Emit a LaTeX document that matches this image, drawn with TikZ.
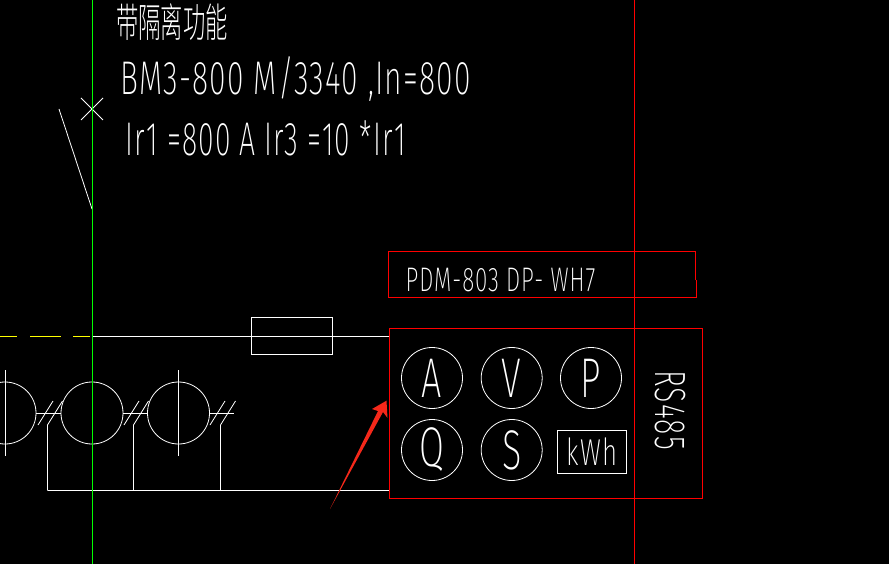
\documentclass[tikz,border=0pt]{standalone}
\usepackage{fontspec}
\usetikzlibrary{positioning}
\setmainfont{Fira Sans}[UprightFont=* ExtraLight]
\newfontfamily\cadfont{Fira Sans}[UprightFont=* ExtraLight,LetterSpace=4]
\newfontfamily\cjkfont{Noto Sans CJK SC}[UprightFont=* Light]
\definecolor{cadred}{HTML}{FF0000}
\definecolor{cadgreen}{HTML}{00FF00}
\definecolor{cadyellow}{HTML}{FFFF00}
\definecolor{arrowred}{HTML}{F5281A}

\begin{document}
\begin{tikzpicture}[x=1pt,y=-1pt,line width=.8pt,
  wire/.style={draw=white},
  redbox/.style={draw=cadred,line width=1pt},
  gauge/.style={circle,draw=white,minimum size=61pt,inner sep=0pt},
  cadlabel/.style={text=white,inner sep=0pt,yscale=1.1,font=\cadfont\fontsize{43}{43}\selectfont}]
  \fill[black] (0,0) rectangle (889,564);
  \useasboundingbox (0,0) rectangle (889,564);

  % rails
  \coordinate (railtop) at (92,0);
  \coordinate (railbot) at (92,564);
  \coordinate (redtop) at (634.5,0);
  \coordinate (redbot) at (634.5,564);

  % breaker
  \coordinate (brkfree) at (59,109);
  \coordinate (brkend) at (92,209);
  \coordinate (crossa) at (81,98);
  \coordinate (crossb) at (103,120);
  \coordinate (crossc) at (103,98);
  \coordinate (crossd) at (81,120);
  \draw[wire] (brkfree) -- (brkend);
  \draw[wire] (crossa) -- (crossb);
  \draw[wire] (crossc) -- (crossd);

  % labels
  \node[text=white,inner sep=0pt,xscale=.97,yscale=1.75,font=\cjkfont\fontsize{23}{23}\selectfont] (funclabel) at (172,22) {带隔离功能};
  \node[cadlabel,xscale=.7] (typelabel) at (295.5,79) {BM3-800 M/3340 ,In=800};
  \node[cadlabel,xscale=.66] (setlabel) at (265.5,138) {Ir1 =800 A Ir3 =10 *Ir1};

  % line to meter
  \coordinate (busleft) at (0,336.5);
  \coordinate (busmid) at (92,336.5);
  \draw[draw=cadyellow,dash pattern=on 17pt off 13pt on 31pt off 12pt] (busleft) -- (busmid);
  \node[draw=white,minimum width=81pt,minimum height=37pt,inner sep=0pt] (fuse) at (292,335.5) {};
  \node[redbox,minimum width=312.5pt,minimum height=169.5pt,inner sep=0pt] (meter) at (545.75,413.25) {};
  \coordinate (busend) at (meter.west |- busmid);
  \draw[wire] (busmid) -- (busend);

  % current transformers
  \foreach \name/\cx in {cta/5,ctb/92,ctc/178.5} {
    \node[circle,draw=white,minimum size=62pt,inner sep=0pt] (\name) at (\cx,413) {};
  }
  \coordinate (ctatop) at (5.5,370);
  \coordinate (ctabot) at (5.5,456);
  \coordinate (ctctop) at (178.5,370);
  \coordinate (ctcbot) at (178.5,456);
  \draw[wire] (ctatop) -- (ctabot);
  \draw[wire] (ctctop) -- (ctcbot);
  \coordinate (stub) at (234,413);
  \draw[wire] (cta) -- (ctb);
  \draw[wire] (ctb) -- (ctc);
  \draw[wire] (ctc.east) -- (stub);
  \foreach \name/\sx in {a/38,b/124,c/210} {
    \coordinate (sl\name top) at (\sx+15,401);
    \coordinate (sl\name bot) at (\sx,425);
    \draw[wire] (sl\name top) -- (sl\name bot);
  }
  \foreach \name/\wx in {a/47.5,b/133.5,c/220.5} {
    \coordinate (wr\name top) at (\wx+15,401);
    \coordinate (wr\name knee) at (\wx,425);
    \coordinate (wr\name foot) at (\wx,490.5);
    \draw[wire] (wr\name top) -- (wr\name knee) -- (wr\name foot);
  }
  \coordinate (retend) at (meter.west |- wrafoot);
  \draw[wire] (wrafoot) -- (retend);

  % rails on top of the wires
  \draw[draw=cadgreen,line width=1pt] (railtop) -- (railbot);
  \draw[draw=cadred] (redtop) -- (redbot);

  % type box
  \coordinate (tbnw) at (388.5,251.5);
  \coordinate (tbne) at (695.5,251.5);
  \coordinate (tbstep) at (695.5,280);
  \coordinate (tbse) at (696.5,297);
  \coordinate (tbsw) at (388.5,297);
  \draw[draw=cadred,line width=.7pt] (tbnw) -- (tbne) -- (tbstep);
  \draw[redbox] (tbstep) -| (tbse) -- (tbsw) -- (tbnw);
  \node[text=white,inner sep=0pt,xscale=.725,yscale=1.1,font=\cadfont\fontsize{31}{31}\selectfont] (meterlabel) at (500.5,280) {PDM-803 DP- WH7};

  % gauges
  \node[gauge] (gaugeA) at (432,378) {};
  \node[gauge] (gaugeV) at (511.7,378) {};
  \node[gauge] (gaugeP) at (591,378) {};
  \node[gauge] (gaugeQ) at (432,450) {};
  \node[gauge] (gaugeS) at (511.7,450) {};
  \node[draw=white,minimum width=69.5pt,minimum height=43.5pt,inner sep=0pt] (kwhbox) at (592,452) {};
  \foreach \name/\txt in {gaugeA/A,gaugeV/V,gaugeP/P,gaugeQ/Q,gaugeS/S} {
    \node[text=white,inner sep=0pt,xscale=.72,yscale=1.12,font=\cadfont\fontsize{50}{50}\selectfont] at (\name) {\txt};
  }
  \node[text=white,inner sep=0pt,xscale=.76,yscale=1.1,font=\cadfont\fontsize{34}{34}\selectfont] (kwhlabel) at (kwhbox) {kWh};
  \node[text=white,inner sep=0pt,rotate=-90,xscale=.62,yscale=.95,font=\cadfont\fontsize{46}{46}\selectfont] (rslabel) at (670,410) {RS485};

  % pointer
  \fill[arrowred] (330,509) -- (378,411) -- (372,409) -- (386.5,400.7) -- (387.5,418) -- (383,412) -- cycle;
\end{tikzpicture}
\end{document}
